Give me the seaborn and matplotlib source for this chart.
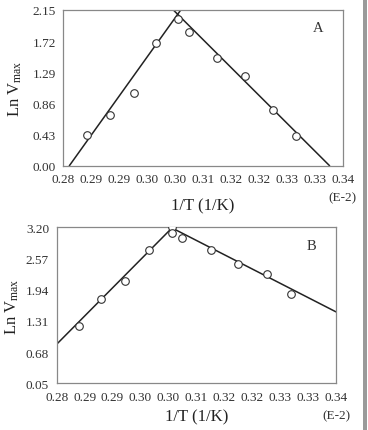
import numpy as np
import pandas as pd
import matplotlib
matplotlib.use("Agg")
import matplotlib.pyplot as plt
import seaborn as sns

# panel A data (1/T, Ln Vmax)
a_x = [0.2851, 0.2901, 0.2951, 0.3000, 0.3047, 0.3071, 0.3131, 0.3190, 0.3251, 0.3300]
a_y = [0.423, 0.703, 1.006, 1.700, 2.021, 1.842, 1.488, 1.245, 0.776, 0.404]
# fitted lines of panel A (end points)
a_fit1_x = [0.2813, 0.3069]
a_fit1_y = [0.00, 2.30]
a_fit2_x = [0.3013, 0.3372]
a_fit2_y = [2.30, 0.00]

# panel B data
b_x = [0.2847, 0.2895, 0.2946, 0.2999, 0.3047, 0.3048, 0.3069, 0.3131, 0.3190, 0.3251, 0.3303]
b_y = [1.210, 1.750, 2.114, 2.741, 3.200, 3.092, 2.977, 2.748, 2.451, 2.262, 1.858]
b_fit1_x = [0.2800, 0.3049]
b_fit1_y = [0.839, 3.200]
b_fit2_x = [0.3045, 0.3400]
b_fit2_y = [3.200, 1.493]

x_ticks = np.round(np.arange(0.28, 0.3401, 0.006), 3)
x_ticklabels = ["0.28", "0.29", "0.29", "0.30", "0.30", "0.31", "0.32", "0.32", "0.33", "0.33", "0.34"]
a_yticks = [0.00, 0.43, 0.86, 1.29, 1.72, 2.15]
b_yticks = [0.05, 0.68, 1.31, 1.94, 2.57, 3.20]

sns.set_theme(style="white")
plt.rcParams['font.family'] = ['Liberation Serif', 'DejaVu Serif']
plt.rcParams['mathtext.fontset'] = 'custom'
plt.rcParams['mathtext.rm'] = 'Liberation Serif'
plt.rcParams['mathtext.it'] = 'Liberation Serif'

fig = plt.figure(figsize=(3.68, 4.31), dpi=100)
ax1 = fig.add_axes([0.172, 0.6132, 0.759, 0.3613])
ax2 = fig.add_axes([0.154, 0.1083, 0.759, 0.362])

panels = [
    (ax1, a_x, a_y, [(a_fit1_x, a_fit1_y), (a_fit2_x, a_fit2_y)], a_yticks, "A", 9, 6),
    (ax2, b_x, b_y, [(b_fit1_x, b_fit1_y), (b_fit2_x, b_fit2_y)], b_yticks, "B", 4, 3),
]

for ax, px, py, fits, yt, tag, xpad, ypad in panels:
    for fx, fy in fits:
        sns.lineplot(x=fx, y=fy, ax=ax, color="#222222", linewidth=1.1, sort=False)
    sns.scatterplot(x=px, y=py, ax=ax, marker="o", s=30, facecolor="white",
                    edgecolor="#333333", linewidth=0.8, zorder=3, clip_on=True)
    ax.set_xlim(0.28, 0.34)
    ax.set_ylim(yt[0], yt[-1])
    ax.set_xticks(x_ticks)
    ax.set_xticklabels(x_ticklabels)
    ax.set_yticks(yt)
    ax.set_yticklabels([f"{v:.2f}" for v in yt])
    ax.tick_params(axis="x", direction="in", length=4, width=0.8, color="#555555",
                   labelsize=9.5, labelcolor="#333333", pad=5.5)
    ax.tick_params(axis="y", length=0, labelsize=9.5, labelcolor="#333333", pad=5.5)
    for s in ax.spines.values():
        s.set_color("#888888")
        s.set_linewidth(0.9)
    ax.set_xlabel("1/T (1/K)", fontsize=12, color="#222222", labelpad=xpad)
    ax.set_ylabel(r"Ln V$_{\mathrm{max}}$", fontsize=12, color="#222222", labelpad=ypad)
    ax.text(0.912, 0.885, tag, transform=ax.transAxes, fontsize=10.5, color="#333333",
            ha="center", va="center")
    ax.text(1.0, -0.205, "(E-2)", transform=ax.transAxes, fontsize=9.5, color="#333333",
            ha="center", va="center")

# thin gray frame at right edge of the picture
fig.add_artist(plt.Rectangle((363 / 368, 0), 4 / 368, 1, transform=fig.transFigure,
                             color="#9a9a9a", lw=0))

fig.savefig("out.png", dpi=100)
